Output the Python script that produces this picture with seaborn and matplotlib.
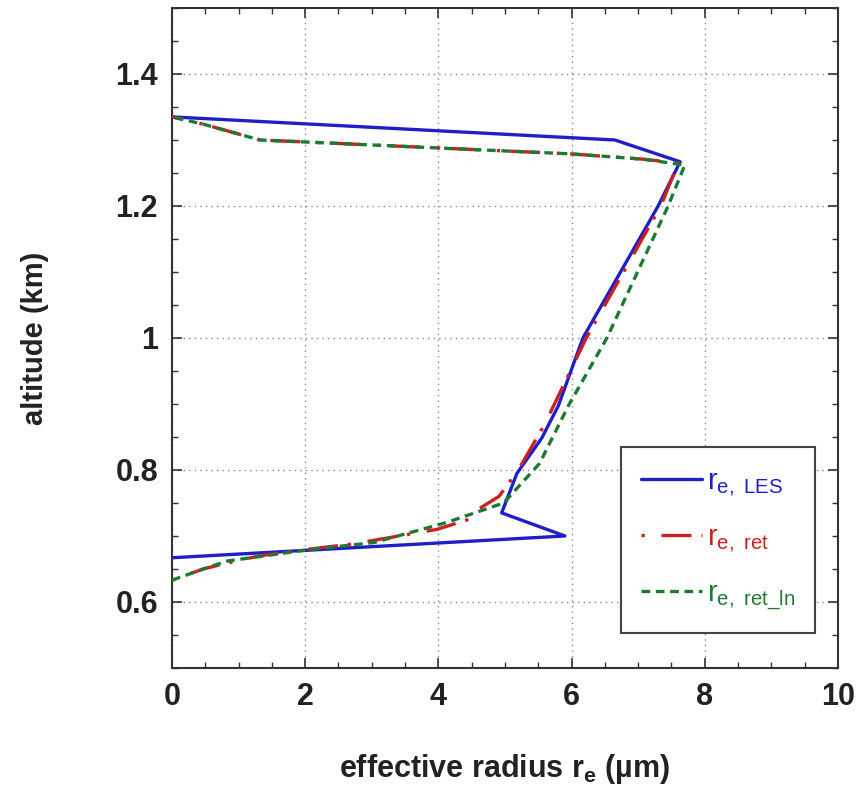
import matplotlib
matplotlib.use('Agg')
import matplotlib.pyplot as plt
import seaborn as sns
import pandas as pd
from matplotlib.ticker import MultipleLocator, FormatStrFormatter

# ========== 数据 ==========
les_r = [0, 5.9, 4.95, 5.18, 5.55, 5.8, 6.17, 7.30, 7.63, 6.65, 0]
les_z = [0.667, 0.70, 0.735, 0.795, 0.848, 0.897, 1.0, 1.2, 1.267, 1.30, 1.335]

ret_r = [0, 0.47, 0.83, 1.32, 1.97, 2.72, 3.98, 4.45, 4.51, 4.91, 5.2, 5.6, 6.22,
         7.34, 7.6, 7.07, 5.98, 3.98, 2.0, 1.32, 0.47, 0]
ret_z = [0.633, 0.65, 0.659, 0.67, 0.679, 0.688, 0.71, 0.725, 0.735, 0.76, 0.80, 0.87, 1.0,
         1.2, 1.265, 1.271, 1.279, 1.288, 1.297, 1.30, 1.324, 1.335]

retln_r = [0, 0.47, 0.83, 2.03, 3.03, 4.11, 4.98, 5.52, 5.95, 6.53, 7.45, 7.7,
           7.07, 5.98, 3.98, 2.0, 1.32, 0.47, 0]
retln_z = [0.633, 0.65, 0.662, 0.679, 0.69, 0.72, 0.75, 0.81, 0.897, 1.0, 1.2, 1.262,
           1.271, 1.279, 1.288, 1.297, 1.30, 1.324, 1.335]

x_ticks = [0, 2, 4, 6, 8, 10]
y_ticks = [0.6, 0.8, 1.0, 1.2, 1.4]

# ========== 风格 ==========
sns.set_style('ticks')
plt.rcParams['font.family'] = ['Liberation Sans', 'DejaVu Sans']
plt.rcParams['font.weight'] = 'bold'
plt.rcParams['mathtext.fontset'] = 'custom'
plt.rcParams['mathtext.rm'] = 'Liberation Sans:weight=bold'
plt.rcParams['mathtext.it'] = 'Liberation Sans:italic:weight=bold'
plt.rcParams['mathtext.sf'] = 'Liberation Sans:weight=normal'   # 图例用细体

BLUE = '#1f1fc8'
RED = '#cc2020'
GREEN = '#1e7a32'

fig = plt.figure(figsize=(8.57, 7.92), dpi=100)
ax = fig.add_axes([0.2007, 0.1566, 0.7771, 0.8333])

df_les = pd.DataFrame({'r': les_r, 'z': les_z})
df_ret = pd.DataFrame({'r': ret_r, 'z': ret_z})
df_ln = pd.DataFrame({'r': retln_r, 'z': retln_z})

sns.lineplot(data=df_les, x='r', y='z', sort=False, estimator=None, ax=ax,
             color=BLUE, linewidth=2.4, label=r'r$_{\mathsf{e,\ LES}}$', zorder=3)
sns.lineplot(data=df_ret, x='r', y='z', sort=False, estimator=None, ax=ax,
             color=RED, linewidth=2.4, linestyle=(0, (1, 5, 9, 3)),
             label=r'r$_{\mathsf{e,\ ret}}$', zorder=4)
sns.lineplot(data=df_ln, x='r', y='z', sort=False, estimator=None, ax=ax,
             color=GREEN, linewidth=2.4, linestyle=(0, (2.6, 1.7)),
             label=r'r$_{\mathsf{e,\ ret\_ln}}$', zorder=5)

# 坐标轴
ax.set_xlim(0, 10)
ax.set_ylim(0.5, 1.5)
ax.set_xticks(x_ticks)
ax.set_yticks(y_ticks)
ax.xaxis.set_minor_locator(MultipleLocator(0.5))
ax.yaxis.set_minor_locator(MultipleLocator(0.05))
ax.yaxis.set_major_formatter(FormatStrFormatter('%g'))
ax.tick_params(which='both', direction='in', top=True, right=True, colors='#333333')
ax.tick_params(which='major', length=7, width=1.2, labelsize=22, pad=10, labelcolor='#222222')
ax.tick_params(which='minor', length=4, width=1)
for s in ax.spines.values():
    s.set_color('#333333')
    s.set_linewidth(1.5)

ax.grid(True, which='major', color='#888888', linestyle=(0, (1, 3)), linewidth=1.0)

ax.set_xlabel(r'effective radius r$_{\mathrm{e}}$ (µm)', fontsize=22, labelpad=29,
              color='#222222', fontweight='bold')
ax.set_ylabel('altitude (km)', fontsize=21, labelpad=48, color='#222222', fontweight='bold')

leg = ax.legend(loc='lower right', bbox_to_anchor=(0.966, 0.053),
                handlelength=2.1, handletextpad=0.15, labelspacing=0.85,
                borderpad=0.7, borderaxespad=0, fancybox=False, framealpha=1,
                edgecolor='#444444', prop={'weight': 'normal', 'size': 21})
leg.get_frame().set_linewidth(1.5)
for txt, c in zip(leg.get_texts(), [BLUE, RED, GREEN]):
    txt.set_color(c)

fig.savefig('out.png', dpi=100)
